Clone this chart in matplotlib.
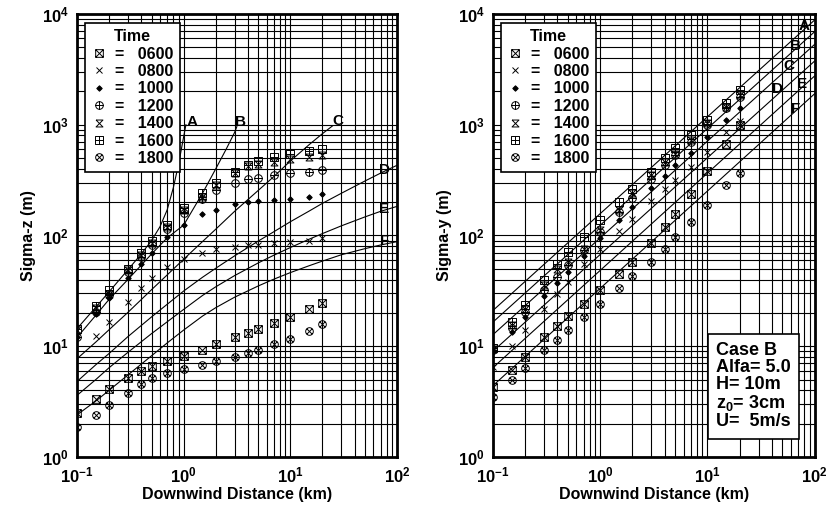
import numpy as np
import matplotlib
matplotlib.use("Agg")
import matplotlib.pyplot as plt
from matplotlib.path import Path
from matplotlib.lines import Line2D
from matplotlib.ticker import FuncFormatter, LogLocator, NullFormatter

plt.rcParams['font.family'] = ['Liberation Sans', 'DejaVu Sans']
plt.rcParams['font.weight'] = 'bold'
plt.rcParams['mathtext.fontset'] = 'custom'
plt.rcParams['mathtext.rm'] = 'Liberation Sans:bold'
plt.rcParams['mathtext.bf'] = 'Liberation Sans:bold'

nan = np.nan

# downwind distances of the measurements (km)
x_data = [0.1, 0.15, 0.2, 0.3, 0.4, 0.5, 0.7, 1, 1.5, 2, 3, 4, 5, 7, 10, 15, 20]
times = ['0600', '0800', '1000', '1200', '1400', '1600', '1800']

# sigma-z (m), left panel
sz_0600 = [2.51, 3.32, 4.09, 5.17, 5.94, 6.59, 7.37, 8.13, 9.33, 10.4, 12.0, 13.3, 14.4, 16.3, 18.4, 21.6, 24.6]
sz_0800 = [nan, 12.3, 16.6, 25.2, 33.2, 40.9, 52.1, 60.7, 69.7, 74.7, 79.0, 81.8, 81.8, 84.7, 86.5, 89.5, 94.0]
sz_1000 = [12.1, 19.7, 27.0, 41.7, 55.8, 68.8, 96, 124, 156, 170, 193, 202, 204, 209, 215, 224, 235]
sz_1200 = [12.1, 20.5, 29, 47, 64, 82, 115, 158, 215, 255, 300, 323, 331, 351, 364, 377, 388]
sz_1400 = [14.0, 22.0, 29.9, 48.6, 66, 84.7, 120, 170, 224, 286, 370, 425, 446, 461, 490, 514, 531]
sz_1600 = [14.4, 23.0, 32.1, 50.3, 69.8, 89.5, 125, 178, 243, 300, 376, 431, 472, 516, 547, 575, 600]
sz_1800 = [1.87, 2.41, 2.97, 3.79, 4.54, 5.17, 5.74, 6.28, 6.83, 7.37, 8.07, 8.71, 9.33, 10.4, 11.7, 13.7, 16.0]

# sigma-y (m), right panel
sy_0600 = [4.29, 6.15, 8.0, 12.0, 15.1, 18.7, 24.3, 32.1, 45.3, 57.6, 86.1, 120, 157, 237, 385, 673, 1000]
sy_0800 = [6.5, 10.0, 13.9, 21.8, 29.9, 38.2, 54.9, 76.2, 110, 142, 204, 260, 316, 417, 570, 850, 1090]
sy_1000 = [9.0, 13.5, 18.2, 28.3, 37.3, 46.8, 64.8, 93.9, 138, 181, 267, 343, 433, 560, 780, 1100, 1400]
sy_1200 = [9.3, 14.5, 20.4, 32, 42.3, 53.7, 73.5, 108, 164, 220, 325, 433, 530, 700, 1000, 1400, 1780]
sy_1400 = [9.5, 15.4, 21.9, 35.5, 49.4, 57.6, 76.2, 111, 169, 240, 350, 464, 549, 726, 1040, 1450, 1850]
sy_1600 = [9.7, 16.6, 23.7, 40, 55, 71, 97.6, 138, 201, 260, 376, 497, 611, 805, 1100, 1560, 2060]
sy_1800 = [3.48, 4.93, 6.37, 9.2, 11.5, 13.9, 18.4, 24.0, 33.2, 42.9, 57.6, 76.2, 95.9, 133, 190, 285, 370]

# Pasquill-Gifford sigma-z curves
pg_z_x = {
    'A': [0.1, 0.15, 0.2, 0.3, 0.4, 0.5, 0.6, 0.7, 0.8, 0.9, 1.0, 1.05],
    'B': [0.1, 0.15, 0.2, 0.3, 0.5, 0.7, 1, 1.5, 2, 2.5, 3, 3.15],
    'C': [0.1, 0.15, 0.2, 0.3, 0.5, 0.7, 1, 1.5, 2, 3, 5, 7, 10, 15, 20, 25],
    'D': [0.1, 0.15, 0.2, 0.3, 0.5, 0.7, 1, 1.5, 2, 3, 5, 7, 10, 15, 20, 30, 50, 70, 100],
    'E': [0.1, 0.15, 0.2, 0.3, 0.5, 0.7, 1, 1.5, 2, 3, 5, 7, 10, 15, 20, 30, 50, 70, 100],
    'F': [0.1, 0.15, 0.2, 0.3, 0.5, 0.7, 1, 1.5, 2, 3, 5, 7, 10, 15, 20, 30, 50, 70, 100],
}
pg_z_y = {
    'A': [14.4, 22.5, 31, 49, 68, 90, 120, 170, 270, 450, 780, 1000],
    'B': [12, 19, 26.5, 40, 68, 95, 124, 240, 400, 600, 850, 960],
    'C': [7.7, 10.9, 14.1, 20.2, 32.4, 44, 61, 88, 114, 165, 255, 340, 470, 660, 830, 980],
    'D': [4.8, 6.8, 8.6, 12.2, 18.4, 23.9, 31.5, 41.9, 50.6, 65.4, 89, 108, 133, 166, 195, 240, 310, 365, 430],
    'E': [3.6, 5.0, 6.4, 8.8, 13, 16.6, 21.5, 28.7, 34.4, 43.4, 56.5, 66.3, 77.8, 92.5, 104, 122, 147, 165, 183],
    'F': [2.4, 3.2, 4.0, 5.5, 8.2, 10.7, 14.0, 18.7, 22.3, 27.7, 35, 40.3, 46.2, 53.3, 58.7, 66.9, 76, 82, 88],
}
z_label_pos = {'A': (1.2, 1060), 'B': (3.4, 1060), 'C': (28, 1080),
               'D': (76, 390), 'E': (76, 173), 'F': (76, 89)}

# sigma-y lines (straight on log-log), end points
pg_y_x = [0.1, 100]
pg_y_y = {'A': [21, 8800], 'B': [16.5, 6900], 'C': [12.7, 5300],
          'D': [9.0, 3750], 'E': [6.4, 2750], 'F': [4.4, 1900]}
y_label_pos = {'A': (80, 7790), 'B': (67, 5140), 'C': (58, 3390),
               'D': (45, 2100), 'E': (77, 2330), 'F': (67, 1390)}


def mk(verts, codes):
    return Path(verts, codes)


M, L, C = Path.MOVETO, Path.LINETO, Path.CLOSEPOLY
sq = [(-1, -1), (1, -1), (1, 1), (-1, 1), (-1, -1)]
sq_c = [M, L, L, L, C]
circ = Path.unit_circle()
boxtimes = mk(sq + [(-1, -1), (1, 1), (-1, 1), (1, -1)], sq_c + [M, L, M, L])
boxplus = mk(sq + [(-1, 0), (1, 0), (0, -1), (0, 1)], sq_c + [M, L, M, L])
d = 0.707
oplus = Path.make_compound_path(circ, mk([(-1, 0), (1, 0), (0, -1), (0, 1)], [M, L, M, L]))
otimes = Path.make_compound_path(circ, mk([(-d, -d), (d, d), (-d, d), (d, -d)], [M, L, M, L]))
hourglass = mk([(-1, 1), (1, 1), (-1, -1), (1, -1), (-1, 1)], [M, L, L, L, L])

styles = {
    '0600': dict(marker=boxtimes, ms=5.5, mfc='none'),
    '0800': dict(marker='x', ms=4.5, mfc='none'),
    '1000': dict(marker='D', ms=2.8, mfc='k'),
    '1200': dict(marker=oplus, ms=5.5, mfc='none'),
    '1400': dict(marker=hourglass, ms=5, mfc='none'),
    '1600': dict(marker=boxplus, ms=5.5, mfc='none'),
    '1800': dict(marker=otimes, ms=5.5, mfc='none'),
}

sz = dict(zip(times, [sz_0600, sz_0800, sz_1000, sz_1200, sz_1400, sz_1600, sz_1800]))
sy = dict(zip(times, [sy_0600, sy_0800, sy_1000, sy_1200, sy_1400, sy_1600, sy_1800]))

fig = plt.figure(figsize=(8.27, 5.07), dpi=100)
ax1 = fig.add_axes([0.0931, 0.0986, 0.387, 0.874])
ax2 = fig.add_axes([0.596, 0.0986, 0.389, 0.874])


def setup(ax, ylabel):
    ax.set_xscale('log')
    ax.set_yscale('log')
    ax.set_xlim(0.1, 100)
    ax.set_ylim(1, 1e4)
    ax.xaxis.set_major_locator(LogLocator(base=10, numticks=10))
    ax.yaxis.set_major_locator(LogLocator(base=10, numticks=10))
    ax.xaxis.set_minor_locator(LogLocator(base=10, subs=np.arange(2, 10), numticks=20))
    ax.yaxis.set_minor_locator(LogLocator(base=10, subs=np.arange(2, 10), numticks=20))
    fmt = FuncFormatter(lambda v, p: r'$\mathbf{10^{%d}}$' % round(np.log10(v)))
    ax.xaxis.set_major_formatter(fmt)
    ax.yaxis.set_major_formatter(fmt)
    ax.xaxis.set_minor_formatter(NullFormatter())
    ax.yaxis.set_minor_formatter(NullFormatter())
    ax.tick_params(which='both', length=0, labelsize=12, pad=6)
    ax.grid(True, which='both', color='k', lw=0.8)
    for s in ax.spines.values():
        s.set_linewidth(2)
    ax.set_xlabel('Downwind Distance (km)', fontsize=11.5, fontweight='bold', labelpad=1)
    ax.set_ylabel(ylabel, fontsize=11.5, fontweight='bold', labelpad=4)


setup(ax1, 'Sigma-z (m)')
setup(ax2, 'Sigma-y (m)')

for k in 'ABCDEF':
    ax1.plot(pg_z_x[k], pg_z_y[k], color='k', lw=0.8, zorder=3)
    ax1.text(*z_label_pos[k], k, fontsize=11, fontweight='bold', ha='center', va='center', zorder=5)
    ax2.plot(pg_y_x, pg_y_y[k], color='k', lw=0.8, zorder=3)
    ax2.text(*y_label_pos[k], k, fontsize=11, fontweight='bold', ha='center', va='center', zorder=5)

for t in times:
    st = styles[t]
    ax1.plot(x_data, sz[t], ls='none', mec='k', mew=0.7, zorder=4, **st)
    ax2.plot(x_data, sy[t], ls='none', mec='k', mew=0.7, zorder=4, **st)

for ax in (ax1, ax2):
    handles = [Line2D([], [], ls='none', mec='k', mew=0.7, **styles[t]) for t in times]
    labels = ['=   ' + t for t in times]
    leg = ax.legend(handles, labels, title='Time', loc='upper left',
                    bbox_to_anchor=(0.025, 0.98), fancybox=False, framealpha=1,
                    edgecolor='k', prop={'weight': 'bold', 'size': 11.5},
                    title_fontproperties={'weight': 'bold', 'size': 11.5},
                    handlelength=1.0, handletextpad=0.5, labelspacing=0.15,
                    borderpad=0.4, borderaxespad=0)
    leg.get_frame().set_linewidth(1.2)
    leg.set_zorder(10)

ax2.text(0.925, 0.06, 'Case B\nAlfa= 5.0\nH= 10m\nz$_{\\mathbf{0}}$= 3cm\nU=  5m/s',
         transform=ax2.transAxes, ha='right', va='bottom', multialignment='left',
         fontsize=13, fontweight='bold', linespacing=1.0, zorder=10,
         bbox=dict(boxstyle='square,pad=0.45', fc='white', ec='k', lw=1.2))

fig.savefig('out.png', dpi=100)
